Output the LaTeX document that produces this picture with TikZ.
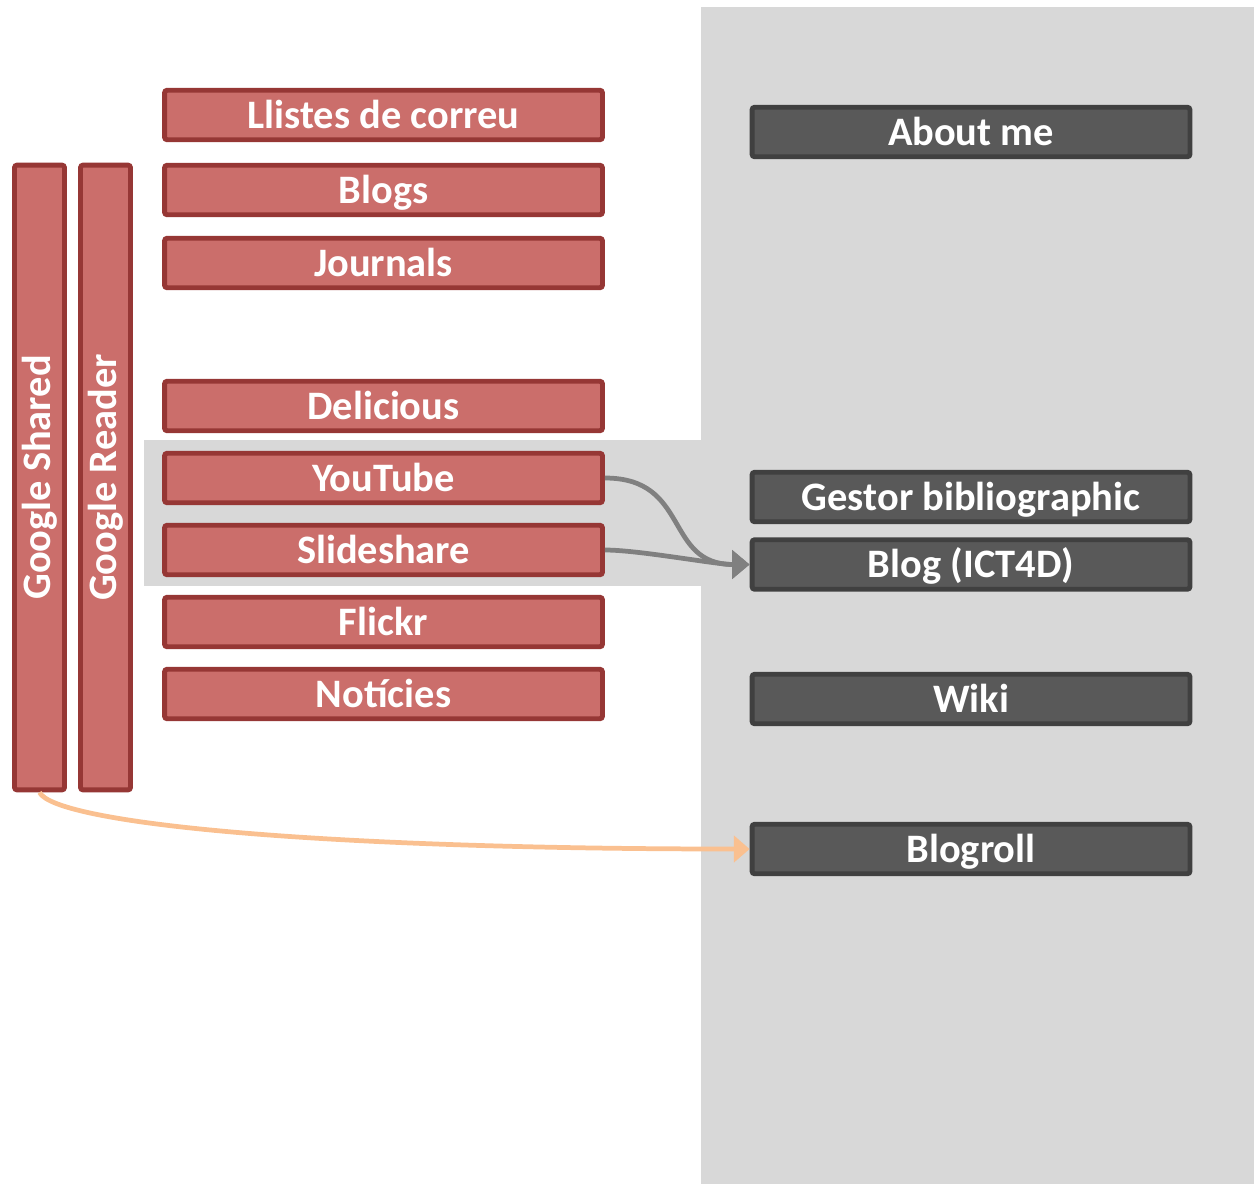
\documentclass[tikz,border=0pt]{standalone}
\usepackage{fontspec}
\setmainfont{Carlito}
\usetikzlibrary{arrows.meta}
\definecolor{bg_grey}{RGB}{216, 216, 216}
\definecolor{box_red}{RGB}{203, 110, 107}
\definecolor{box_redline}{RGB}{150, 55, 53}
\definecolor{box_dark}{RGB}{89, 89, 89}
\definecolor{box_darkline}{RGB}{64, 64, 64}
\definecolor{arr_grey}{RGB}{128, 128, 128}
\definecolor{arr_orange}{RGB}{250, 192, 144}
\tikzstyle{vb}=[rectangle,rounded corners=1.5pt,fill=box_red,draw=box_redline,
  line width=2.8pt,text=white,font=\fontsize{23}{27}\selectfont\bfseries,
  minimum width=1.0cm,minimum height=12.5cm,inner sep=0pt]
\tikzstyle{rb}=[vb,minimum width=8.76cm,minimum height=0.99cm,
  text height=20pt,text depth=5.2pt]
\tikzstyle{db}=[rb,fill=box_dark,draw=box_darkline]
\tikzstyle{ga}=[draw=arr_grey,line width=2.7pt,-{Triangle[length=10pt,width=16pt]}]
\tikzstyle{oa}=[draw=arr_orange,line width=2.7pt,-{Triangle[length=9pt,width=15pt]}]

\begin{document}
\begin{tikzpicture}[x=0.02cm,y=-0.02cm]
    \useasboundingbox (0,0) rectangle (1254,1184);
    \fill [bg_grey] (701,7) rectangle (1254,1184);
    \fill [bg_grey] (144,440) rectangle (701,586);
    \node [style=vb] (gshared) at (39.5,477.5) {\rotatebox{90}{Google Shared}};
    \node [style=vb] (greader) at (105.5,477.5) {\rotatebox{90}{Google Reader}};
    \node [style=rb] (llistes) at (383.5,115) {Llistes de correu};
    \node [style=rb] (blogs) at (383.5,190) {Blogs};
    \node [style=rb] (journals) at (383.5,263) {Journals};
    \node [style=rb] (delicious) at (383.5,406) {Delicious};
    \node [style=rb] (youtube) at (383.5,478) {YouTube};
    \node [style=rb] (slideshare) at (383.5,550) {Slideshare};
    \node [style=rb] (flickr) at (383.5,622) {Flickr};
    \node [style=rb] (noticies) at (383.5,694) {Notícies};
    \node [style=db] (aboutme) at (971,132) {About me};
    \node [style=db] (gestor) at (971,497) {Gestor bibliographic};
    \node [style=db] (blogict) at (971,564.5) {Blog (ICT4D)};
    \node [style=db] (wiki) at (971,699) {Wiki};
    \node [style=db] (blogroll) at (971,849) {Blogroll};
    \draw [style=ga] (youtube.east) to[out=0,in=180,looseness=1.3] (blogict.west);
    \draw [style=ga] (slideshare.east) to[out=0,in=180,looseness=0.6] (blogict.west);
    \draw [style=oa] (gshared.south) .. controls (55,822) and (300,849) .. (blogroll.west);
  \end{tikzpicture}
\end{document}
